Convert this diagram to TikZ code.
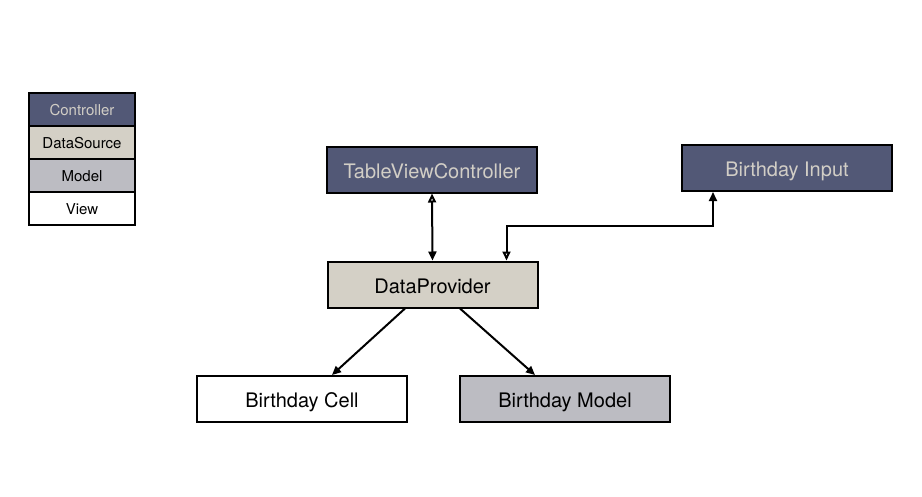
\documentclass[tikz,border=0pt]{standalone}
\usepackage{fontspec}
\setmainfont{TeX Gyre Heros}
\usepackage{xcolor}
\usepackage{tikz}
\usetikzlibrary{arrows.meta, positioning}
\definecolor{CtrlFill}{RGB}{82, 88, 118}
\definecolor{CtrlText}{RGB}{210, 206, 198}
\definecolor{SourceFill}{RGB}{212, 208, 198}
\definecolor{ModelFill}{RGB}{188, 188, 194}

\tikzset{
  box/.style={draw=black, line width=2pt, minimum width=210pt, minimum height=46pt,
    inner sep=0pt, text height=19pt, text depth=2pt, font=\fontsize{20}{24}\selectfont},
  ctrlbox/.style={box, fill=CtrlFill, text=CtrlText},
  sourcebox/.style={box, fill=SourceFill},
  modelbox/.style={box, fill=ModelFill},
  viewbox/.style={box, fill=white},
  keybox/.style={draw=black, line width=2pt, minimum width=106pt, minimum height=33pt,
    inner sep=0pt, outer sep=0pt, text height=13pt, text depth=0.5pt,
    font=\fontsize{15}{18}\selectfont},
  link/.style={line width=2pt, -{Triangle[length=9pt,width=8pt]}},
  twoway/.style={line width=2pt, {Triangle[open,length=9pt,width=8pt]}-{Triangle[length=9pt,width=8pt]}}
}

\begin{document}
\begin{tikzpicture}[x=1pt, y=-1pt]
    \useasboundingbox (0,0) rectangle (922,496);

    % legend
    \node[keybox, fill=CtrlFill, text=CtrlText] (keyctrl) at (82,109.5) {Controller};
    \node[keybox, fill=SourceFill, below=0pt of keyctrl] (keysource) {DataSource};
    \node[keybox, fill=ModelFill, below=0pt of keysource] (keymodel) {Model};
    \node[keybox, fill=white, below=0pt of keymodel] (keyview) {View};

    % boxes
    \node[ctrlbox] (tvc) at (432,169.5) {TableViewController};
    \node[ctrlbox] (input) at (787,168) {Birthday Input};
    \node[sourcebox] (provider) at (432.5,284.5) {DataProvider};
    \node[viewbox] (cell) at (302,399) {Birthday Cell};
    \node[modelbox] (model) at (565,399) {Birthday Model};

    % connectors
    \draw[twoway] (tvc.south) -- (provider.north);
    \draw[twoway] ([xshift=-32pt]provider.north east)
      |- ([xshift=-74pt,yshift=-34pt]input.south) -- ([xshift=-74pt]input.south);
    \draw[link] ([xshift=-27.5pt]provider.south) -- ([xshift=30pt]cell.north);
    \draw[link] ([xshift=27.5pt]provider.south) -- ([xshift=-30pt]model.north);
  \end{tikzpicture}
\end{document}
